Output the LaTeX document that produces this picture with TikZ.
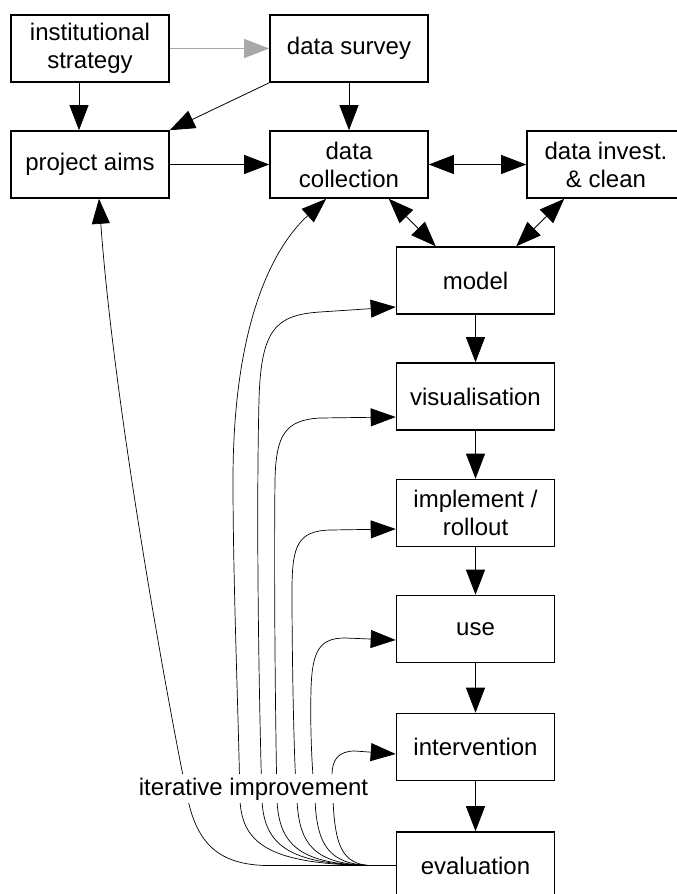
\documentclass[tikz,border=0pt]{standalone}
\usepackage{fontspec}
\setmainfont{Liberation Sans}
\usetikzlibrary{arrows.meta}
\definecolor{arrowgrey}{gray}{0.66}
\begin{document}
\begin{tikzpicture}[x=1pt, y=-1pt,
  font=\fontsize{24}{28}\selectfont,
  box/.style={draw, line width=1.6pt, minimum width=158pt, minimum height=67pt,
              align=center, inner sep=2pt},
  conn/.style={line width=0.8pt, -{Triangle[length=25pt, width=19pt]}},
  dconn/.style={line width=0.8pt, {Triangle[length=25pt, width=19pt]}-{Triangle[length=25pt, width=19pt]}},
  loopback/.style={line width=0.7pt, -{Triangle[length=25pt, width=18pt]}},
  greyconn/.style={conn, color=arrowgrey}]

\useasboundingbox (0,0) rectangle (677,894);

% planning row
\node[box] (inst)    at (90,48.5)    {institutional\\strategy};
\node[box] (survey)  at (349,48.5)   {data survey};
\node[box] (aims)    at (90,164.5)   {project aims};
\node[box] (collect) at (349,164.5)  {data\\collection};
\node[box] (invest)  at (606,164.5)  {data invest.\\\& clean};

% main pipeline
\node[box] (model)  at (475.5,280.5) {model};
\node[box] (vis)    at (475.5,396.5) {visualisation};
\node[box] (impl)   at (475.5,513)   {implement /\\rollout};
\node[box] (use)    at (475.5,629)   {use};
\node[box] (interv) at (475.5,747)   {intervention};
\node[box] (eval)   at (475.5,865.5) {evaluation};

\coordinate (C) at (370,865.5);

% planning connectors
\draw[greyconn] (inst) -- (survey);
\draw[conn] ([xshift=-11pt]inst.south) -- ([xshift=-11pt]aims.north);
\draw[conn] (survey.south west) -- (aims.north east);
\draw[conn] (survey) -- (collect);
\draw[conn] (aims) -- (collect);
\draw[dconn] (collect) -- (invest);
\draw[dconn] ([xshift=-40pt]collect.south east) -- ([xshift=40pt]model.north west);
\draw[dconn] ([xshift=38pt]invest.south west) -- ([xshift=-39pt]model.north east);

% pipeline connectors
\draw[conn] (model) -- (vis);
\draw[conn] (vis) -- (impl);
\draw[conn] (impl) -- (use);
\draw[conn] (use) -- (interv);
\draw[conn] (interv) -- (eval);

% feedback from evaluation
\draw[line width=0.7pt] (eval.west) -- (C);
\draw[loopback] (C) -- (265,865.5) .. controls (220,864) and (198,845) .. (188,800)
  .. controls (175,740) and (115,420) .. ([xshift=9pt]aims.south);
\draw[loopback] (C) .. controls (272,864) and (242,845) .. (240,800)
  .. controls (238,700) and (233,580) .. (233,480)
  .. controls (233,330) and (270,250) .. ([xshift=57pt]collect.south west);
\draw[loopback] (C) .. controls (289,864) and (264,845) .. (262,800)
  .. controls (259,700) and (256,520) .. (259,400)
  .. controls (261,330) and (275,315) .. (320,312) -- ([yshift=-26.5pt]model.west);
\draw[loopback] (C) .. controls (300,864) and (279,845) .. (277,800)
  .. controls (275,700) and (274,560) .. (275,480)
  .. controls (276,435) and (285,420) .. (320,418) -- ([yshift=-20.5pt]vis.west);
\draw[loopback] (C) .. controls (315,864) and (299,845) .. (297,800)
  .. controls (294,770) and (292,660) .. (292,590)
  .. controls (292,545) and (298,531) .. (330,530) -- ([yshift=-16pt]impl.west);
\draw[loopback] (C) .. controls (329,864) and (317,845) .. (315,800)
  .. controls (312,770) and (310,730) .. (311,690)
  .. controls (312,650) and (320,638) .. (345,638) -- ([yshift=-11pt]use.west);
\draw[loopback] (C) .. controls (342,864) and (335,845) .. (333,800) -- (332,775)
  .. controls (332,760) and (338,751) .. (355,751) -- ([yshift=-7pt]interv.west);

\node[fill=white, inner sep=3.5pt, anchor=base] (iter) at (253.5,795) {iterative improvement};
\end{tikzpicture}
\end{document}
